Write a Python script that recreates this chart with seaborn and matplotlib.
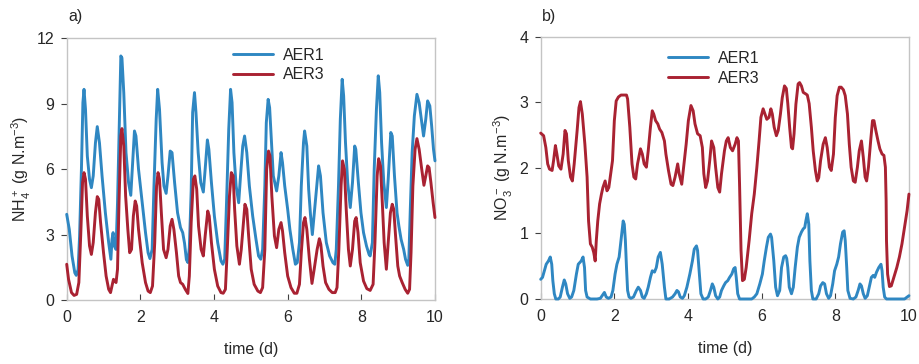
import numpy as np
import pandas as pd
import matplotlib
matplotlib.use("Agg")
import matplotlib.pyplot as plt
import seaborn as sns

# ---------------- data ----------------
t_nh4_aer1 = [0, .07, .145, .22, .26, .31, .35, .40, .44, .47, .51, .56, .62, .67, .72, .78, .83, .89, .96,
              1.05, 1.14, 1.20, 1.23, 1.26, 1.29, 1.34, 1.38, 1.43, 1.47, 1.50, 1.55, 1.61, 1.68, 1.74, 1.78,
              1.84, 1.88, 1.95, 2.05, 2.14, 2.21, 2.26, 2.32, 2.37, 2.43, 2.47, 2.52, 2.59, 2.64, 2.70, 2.75,
              2.81, 2.86, 2.93, 3.01, 3.09, 3.15, 3.20, 3.25, 3.29, 3.33, 3.38, 3.42, 3.47, 3.51, 3.57, 3.64,
              3.71, 3.76, 3.82, 3.86, 3.93, 4.01, 4.10, 4.19, 4.24, 4.29, 4.34, 4.40, 4.45, 4.49, 4.54, 4.60,
              4.67, 4.72, 4.78, 4.83, 4.89, 4.96, 5.05, 5.14, 5.21, 5.27, 5.32, 5.38, 5.42, 5.47, 5.51, 5.56,
              5.61, 5.70, 5.76, 5.82, 5.86, 5.92, 6.00, 6.06, 6.14, 6.21, 6.26, 6.32, 6.37, 6.43, 6.46, 6.52,
              6.57, 6.62, 6.67, 6.75, 6.84, 6.89, 6.96, 7.05, 7.14, 7.23, 7.28, 7.32, 7.38, 7.43, 7.48, 7.52,
              7.57, 7.63, 7.70, 7.76, 7.82, 7.85, 7.92, 7.99, 8.06, 8.14, 8.21, 8.24, 8.30, 8.35, 8.41, 8.46,
              8.50, 8.55, 8.61, 8.68, 8.73, 8.80, 8.84, 8.90, 8.97, 9.02, 9.08, 9.15, 9.20, 9.26, 9.29, 9.33,
              9.38, 9.44, 9.51, 9.57, 9.63, 9.69, 9.75, 9.80, 9.86, 9.91, 9.96, 10.0]
nh4_aer1 = [3.93, 3.24, 2.02, 1.25, 1.13, 1.4, 2.94, 6.0, 9.05, 9.66, 8.75, 6.6, 5.53, 5.15, 5.69, 7.2, 7.95,
            7.2, 5.69, 4.0, 2.63, 1.87, 2.78, 3.09, 2.48, 2.32, 4.46, 8.29, 11.19, 11.1, 9.5, 6.76, 5.38, 4.8,
            6.0, 7.75, 7.52, 6.0, 4.46, 3.09, 2.17, 1.9, 2.32, 5.23, 8.29, 9.66, 8.75, 6.3, 5.23, 4.89, 5.69,
            6.83, 6.76, 5.38, 4.0, 3.32, 3.09, 2.6, 1.85, 1.72, 2.4, 5.0, 8.6, 9.51, 8.6, 6.76, 5.38, 4.95, 6.0,
            7.34, 6.91, 5.38, 3.85, 2.63, 1.79, 1.64, 1.87, 4.46, 7.83, 9.66, 9.05, 6.76, 5.23, 4.46, 5.69,
            7.06, 7.52, 6.76, 5.23, 3.85, 2.78, 2.02, 1.87, 2.32, 5.23, 8.13, 9.2, 8.82, 7.22, 5.69, 5.0, 5.69,
            6.76, 6.3, 5.23, 4.16, 3.24, 2.32, 1.64, 1.71, 2.63, 5.23, 7.22, 7.75, 7.06, 5.08, 3.9, 3.0, 4.46,
            6.15, 5.69, 4.0, 2.63, 2.02, 1.71, 1.64, 2.32, 5.23, 8.29, 10.12, 9.36, 7.22, 5.38, 4.24, 5.38,
            7.06, 6.91, 5.38, 4.0, 3.09, 2.48, 2.09, 2.02, 2.63, 6.0, 8.75, 10.28, 9.51, 7.22, 5.38, 4.24, 5.54,
            7.68, 7.52, 5.69, 4.0, 3.39, 2.78, 2.32, 1.87, 1.59, 1.87, 4.16, 6.76, 8.44, 9.43, 9.05, 8.29, 7.52,
            8.29, 9.13, 8.9, 7.98, 6.91, 6.38]

t_nh4_aer3 = [0, .05, .13, .20, .27, .33, .38, .43, .47, .51, .56, .62, .67, .72, .78, .83, .87, .92, 1.0,
              1.07, 1.14, 1.19, 1.23, 1.27, 1.30, 1.34, 1.38, 1.42, 1.47, 1.50, 1.55, 1.60, 1.66, 1.71, 1.76,
              1.81, 1.86, 1.90, 1.95, 2.05, 2.14, 2.21, 2.27, 2.33, 2.39, 2.44, 2.48, 2.52, 2.57, 2.63, 2.70,
              2.75, 2.81, 2.86, 2.91, 2.98, 3.04, 3.09, 3.15, 3.22, 3.29, 3.33, 3.38, 3.44, 3.48, 3.53, 3.58,
              3.65, 3.71, 3.76, 3.83, 3.87, 3.93, 4.01, 4.10, 4.19, 4.25, 4.31, 4.36, 4.42, 4.47, 4.52, 4.56,
              4.62, 4.69, 4.74, 4.80, 4.84, 4.89, 4.94, 5.01, 5.09, 5.19, 5.26, 5.32, 5.38, 5.43, 5.48, 5.52,
              5.57, 5.64, 5.70, 5.76, 5.82, 5.86, 5.92, 6.00, 6.09, 6.18, 6.25, 6.32, 6.37, 6.43, 6.47, 6.52,
              6.59, 6.66, 6.72, 6.80, 6.86, 6.90, 6.96, 7.03, 7.12, 7.21, 7.29, 7.34, 7.39, 7.45, 7.49, 7.54,
              7.59, 7.65, 7.70, 7.76, 7.82, 7.86, 7.91, 7.97, 8.06, 8.15, 8.24, 8.32, 8.37, 8.43, 8.47, 8.52,
              8.57, 8.62, 8.68, 8.73, 8.79, 8.84, 8.88, 8.93, 8.99, 9.04, 9.11, 9.19, 9.26, 9.31, 9.35, 9.40,
              9.46, 9.51, 9.57, 9.64, 9.70, 9.75, 9.80, 9.84, 9.89, 9.95, 10.0]
nh4_aer3 = [1.64, .95, .34, .21, .26, .80, 2.94, 5.38, 5.84, 5.54, 3.85, 2.48, 2.09, 2.63, 4.0, 4.74, 4.62,
            3.55, 2.17, 1.1, .49, .34, .64, .95, .87, .80, 1.41, 4.46, 7.52, 7.86, 7.06, 4.77, 3.24, 2.17,
            2.32, 3.85, 4.54, 4.31, 3.24, 1.71, .80, .41, .34, .64, 2.63, 5.23, 5.84, 5.54, 4.0, 2.32, 1.94,
            2.32, 3.39, 3.7, 3.24, 2.17, 1.1, .80, .72, .49, .30, 1.1, 3.55, 5.54, 5.69, 5.08, 3.39, 2.32,
            2.02, 2.94, 4.08, 3.85, 2.63, 1.41, .64, .34, .31, .49, 2.32, 4.77, 5.84, 5.69, 4.16, 2.48, 1.64,
            2.32, 3.55, 4.39, 4.16, 2.94, 1.41, .72, .41, .34, .57, 2.32, 6.0, 6.83, 6.61, 4.77, 2.94, 2.40,
            3.24, 3.55, 3.17, 2.17, 1.1, .57, .31, .31, .72, 2.17, 3.55, 3.78, 3.24, 1.87, .76, 1.41, 2.32,
            2.81, 2.55, 1.56, .80, .49, .34, .34, .57, 2.32, 5.23, 6.38, 6.0, 4.16, 2.32, 1.56, 2.32, 3.62,
            3.78, 3.09, 1.71, .87, .52, .44, .72, 2.63, 5.69, 6.48, 6.15, 4.46, 2.63, 1.41, 2.63, 4.0, 4.39,
            4.16, 2.94, 1.56, 1.1, .80, .49, .31, .49, 2.17, 5.23, 6.91, 7.40, 6.91, 6.0, 5.26, 5.69, 6.15,
            6.07, 5.38, 4.46, 3.78]

t_no3_aer1 = [0, .05, .10, .15, .21, .26, .30, .33, .37, .41, .48, .53, .59, .64, .68, .73, .79, .84, .90,
              .97, 1.02, 1.10, 1.15, 1.19, 1.22, 1.26, 1.35, 1.44, 1.53, 1.62, 1.67, 1.73, 1.78, 1.84, 1.91,
              1.96, 2.02, 2.07, 2.13, 2.16, 2.20, 2.24, 2.27, 2.30, 2.33, 2.36, 2.40, 2.45, 2.52, 2.60, 2.65,
              2.71, 2.76, 2.81, 2.87, 2.92, 2.98, 3.03, 3.09, 3.14, 3.19, 3.25, 3.30, 3.36, 3.40, 3.49, 3.58,
              3.65, 3.70, 3.74, 3.79, 3.85, 3.90, 3.97, 4.05, 4.12, 4.17, 4.23, 4.26, 4.31, 4.35, 4.41, 4.48,
              4.55, 4.61, 4.66, 4.70, 4.75, 4.81, 4.86, 4.91, 4.97, 5.02, 5.08, 5.13, 5.19, 5.24, 5.28, 5.31,
              5.35, 5.40, 5.53, 5.64, 5.73, 5.80, 5.87, 5.95, 6.02, 6.07, 6.13, 6.18, 6.24, 6.27, 6.33, 6.38,
              6.43, 6.49, 6.54, 6.60, 6.65, 6.68, 6.71, 6.75, 6.81, 6.86, 6.91, 6.97, 7.02, 7.08, 7.13, 7.17,
              7.20, 7.24, 7.28, 7.31, 7.35, 7.39, 7.48, 7.55, 7.60, 7.66, 7.71, 7.76, 7.82, 7.87, 7.93, 7.98,
              8.04, 8.09, 8.14, 8.20, 8.24, 8.27, 8.31, 8.34, 8.40, 8.49, 8.56, 8.62, 8.67, 8.71, 8.76, 8.81,
              8.87, 8.92, 8.98, 9.03, 9.07, 9.12, 9.18, 9.24, 9.27, 9.30, 9.34, 9.39, 9.52, 9.70, 9.88, 9.95,
              10.0]
no3_aer1 = [.30, .33, .43, .53, .58, .64, .53, .28, .08, 0, 0, .03, .18, .29, .23, .08, .01, .03, .13, .38,
            .53, .58, .64, .48, .13, .03, 0, 0, 0, .01, .05, .10, .03, .01, .03, .13, .38, .53, .64, .79, .99,
            1.19, 1.14, .89, .48, .13, .03, .01, .03, .13, .18, .13, .03, .01, .08, .18, .33, .43, .41, .48,
            .64, .71, .53, .18, 0, 0, .03, .08, .13, .11, .03, .01, .05, .18, .38, .58, .76, .81, .74, .38,
            .08, 0, 0, .03, .13, .23, .18, .05, 0, .03, .13, .20, .25, .28, .33, .38, .46, .48, .33, .08, 0,
            0, 0, 0, .03, .08, .23, .38, .58, .79, .94, .99, .94, .58, .18, .05, .13, .48, .64, .66, .62, .48,
            .18, .08, .18, .48, .79, .94, 1.02, 1.07, 1.09, 1.19, 1.30, 1.14, .58, .13, 0, 0, .08, .20, .25,
            .23, .08, .01, .05, .23, .43, .53, .64, .84, 1.02, 1.04, .89, .48, .13, .01, 0, .03, .13, .23,
            .20, .08, .01, .05, .18, .33, .36, .33, .41, .48, .53, .43, .18, .03, 0, 0, 0, 0, .03, .05]

t_no3_aer3 = [0, .08, .14, .19, .24, .31, .35, .40, .44, .49, .55, .61, .66, .70, .75, .81, .86, .91, .99,
              1.04, 1.08, 1.13, 1.20, 1.26, 1.30, 1.35, 1.40, 1.44, 1.48, 1.51, 1.55, 1.60, 1.65, 1.69, 1.75,
              1.80, 1.85, 1.89, 1.95, 2.0, 2.05, 2.11, 2.18, 2.25, 2.33, 2.36, 2.42, 2.48, 2.53, 2.58, 2.63,
              2.71, 2.76, 2.81, 2.87, 2.92, 2.98, 3.03, 3.07, 3.12, 3.18, 3.23, 3.29, 3.36, 3.40, 3.47, 3.54,
              3.59, 3.65, 3.72, 3.76, 3.83, 3.88, 3.95, 4.01, 4.08, 4.14, 4.19, 4.26, 4.33, 4.39, 4.43, 4.48,
              4.53, 4.59, 4.64, 4.70, 4.75, 4.81, 4.86, 4.91, 4.99, 5.04, 5.09, 5.15, 5.21, 5.28, 5.33, 5.37,
              5.40, 5.44, 5.48, 5.53, 5.58, 5.66, 5.73, 5.80, 5.87, 5.93, 5.98, 6.04, 6.09, 6.14, 6.20, 6.25,
              6.29, 6.34, 6.40, 6.45, 6.51, 6.56, 6.62, 6.67, 6.71, 6.76, 6.81, 6.84, 6.88, 6.93, 6.99, 7.03,
              7.08, 7.13, 7.19, 7.24, 7.29, 7.35, 7.40, 7.46, 7.51, 7.55, 7.60, 7.67, 7.73, 7.78, 7.84, 7.89,
              7.95, 8.0, 8.05, 8.11, 8.16, 8.22, 8.27, 8.33, 8.38, 8.43, 8.49, 8.54, 8.60, 8.65, 8.71, 8.76,
              8.81, 8.85, 8.90, 8.96, 9.01, 9.05, 9.10, 9.16, 9.21, 9.27, 9.32, 9.36, 9.38, 9.39, 9.42, 9.47,
              9.52, 9.59, 9.67, 9.74, 9.81, 9.88, 9.95, 10.0]
no3_aer3 = [2.53, 2.49, 2.31, 2.06, 1.98, 1.96, 2.11, 2.34, 2.21, 2.03, 1.98, 2.21, 2.57, 2.52, 2.11, 1.86,
            1.80, 2.06, 2.57, 2.92, 3.01, 2.82, 2.36, 1.86, 1.19, .84, .79, .71, .58, .89, 1.19, 1.45, 1.60,
            1.70, 1.80, 1.65, 1.70, 1.86, 2.11, 2.72, 3.02, 3.08, 3.11, 3.11, 3.11, 3.05, 2.62, 2.06, 1.86,
            1.83, 2.06, 2.29, 2.21, 2.06, 2.01, 2.26, 2.62, 2.87, 2.82, 2.72, 2.67, 2.59, 2.54, 2.41, 2.21,
            1.96, 1.75, 1.73, 1.86, 2.06, 1.91, 1.75, 2.01, 2.36, 2.72, 2.95, 2.87, 2.67, 2.52, 2.49, 2.31,
            1.91, 1.70, 1.80, 2.11, 2.41, 2.31, 2.01, 1.70, 1.63, 1.91, 2.26, 2.41, 2.46, 2.31, 2.26, 2.36,
            2.46, 2.41, 1.75, .74, .28, .30, .48, .89, 1.30, 1.60, 2.01, 2.41, 2.77, 2.90, 2.82, 2.74, 2.77,
            2.90, 2.82, 2.62, 2.49, 2.57, 2.82, 3.07, 3.25, 3.21, 2.98, 2.62, 2.31, 2.29, 2.52, 2.97, 3.28,
            3.30, 3.25, 3.15, 3.13, 3.11, 2.98, 2.62, 2.26, 1.96, 1.80, 1.85, 2.11, 2.36, 2.46, 2.31, 2.01,
            1.96, 2.21, 2.77, 3.10, 3.23, 3.23, 3.19, 3.10, 2.82, 2.36, 2.01, 1.80, 1.78, 2.01, 2.26, 2.41,
            2.16, 1.86, 1.80, 2.01, 2.41, 2.72, 2.72, 2.57, 2.41, 2.29, 2.21, 2.19, 2.01, 1.50, .89, .38, .19,
            .20, .33, .48, .64, .84, 1.09, 1.35, 1.60]

series_names = ["AER1", "AER3"]
panel_labels = ["a)", "b)"]
x_ticks = [0, 2, 4, 6, 8, 10]
y_ticks_nh4 = [0, 3, 6, 9, 12]
y_ticks_no3 = [0, 1, 2, 3, 4]
colors = {"AER1": "#2f87c2", "AER3": "#a92232"}

# ---------------- style ----------------
sns.set_style("white")
plt.rcParams["font.family"] = ["Liberation Sans", "DejaVu Sans"]
plt.rcParams["mathtext.fontset"] = "custom"
plt.rcParams["mathtext.rm"] = "Liberation Sans"
plt.rcParams["mathtext.it"] = "Liberation Sans"
plt.rcParams["mathtext.default"] = "regular"

FS = 11.5
fig = plt.figure(figsize=(9.2, 3.64), dpi=100)
ax1 = fig.add_axes([0.0725, 0.1758, 0.4003, 0.719])
ax2 = fig.add_axes([0.5877, 0.1786, 0.4003, 0.7206])

def draw(ax, t1, y1, t3, y3):
    df = pd.concat([
        pd.DataFrame({"t": t1, "v": y1, "s": "AER1"}),
        pd.DataFrame({"t": t3, "v": y3, "s": "AER3"}),
    ], ignore_index=True)
    sns.lineplot(data=df, x="t", y="v", hue="s", hue_order=series_names, palette=colors,
                 estimator=None, sort=False, linewidth=2.1, ax=ax, clip_on=False, zorder=3)

draw(ax1, t_nh4_aer1, nh4_aer1, t_nh4_aer3, nh4_aer3)
draw(ax2, t_no3_aer1, no3_aer1, t_no3_aer3, no3_aer3)

specs = [
    (ax1, y_ticks_nh4, r"NH$_4^+$ (g N.m$^{-3}$)", (0.4515, 0.898), -0.092, panel_labels[0], 68),
    (ax2, y_ticks_no3, r"NO$_3^-$ (g N.m$^{-3}$)", (0.3456, 0.879), -0.07, panel_labels[1], 542),
]
for ax, yt, ylab, leg_pos, ylx, plab, plx in specs:
    ax.set_xlim(0, 10)
    ax.set_ylim(yt[0], yt[-1])
    ax.set_xticks(x_ticks)
    ax.set_yticks(yt)
    ax.set_xticklabels([str(v) for v in x_ticks])
    ax.set_yticklabels([str(v) for v in yt])
    for sp in ax.spines.values():
        sp.set_color("#c4c4c4")
        sp.set_linewidth(1.0)
        sp.set_visible(True)
    ax.tick_params(axis="y", direction="out", length=4, width=0.8, color="#404040",
                   labelsize=FS, pad=5, left=True)
    ax.tick_params(axis="x", direction="in", length=4, width=0.8, color="#404040",
                   labelsize=FS, pad=7, bottom=True)
    ax.set_xlabel("time (d)", fontsize=FS)
    ax.set_ylabel(ylab, fontsize=FS)
    ax.xaxis.set_label_coords(0.5, -0.16)
    ax.yaxis.set_label_coords(ylx, 0.5)
    h, l = ax.get_legend_handles_labels()
    ax.legend(h, l, loc="center left", bbox_to_anchor=leg_pos, frameon=False,
              fontsize=FS, handlelength=2.5, handletextpad=0.6, labelspacing=0.3,
              borderpad=0, borderaxespad=0)
    fig.text(plx / 920, 1 - 16 / 364, plab, fontsize=FS, va="center", ha="left")

fig.savefig("out.png", dpi=100)
